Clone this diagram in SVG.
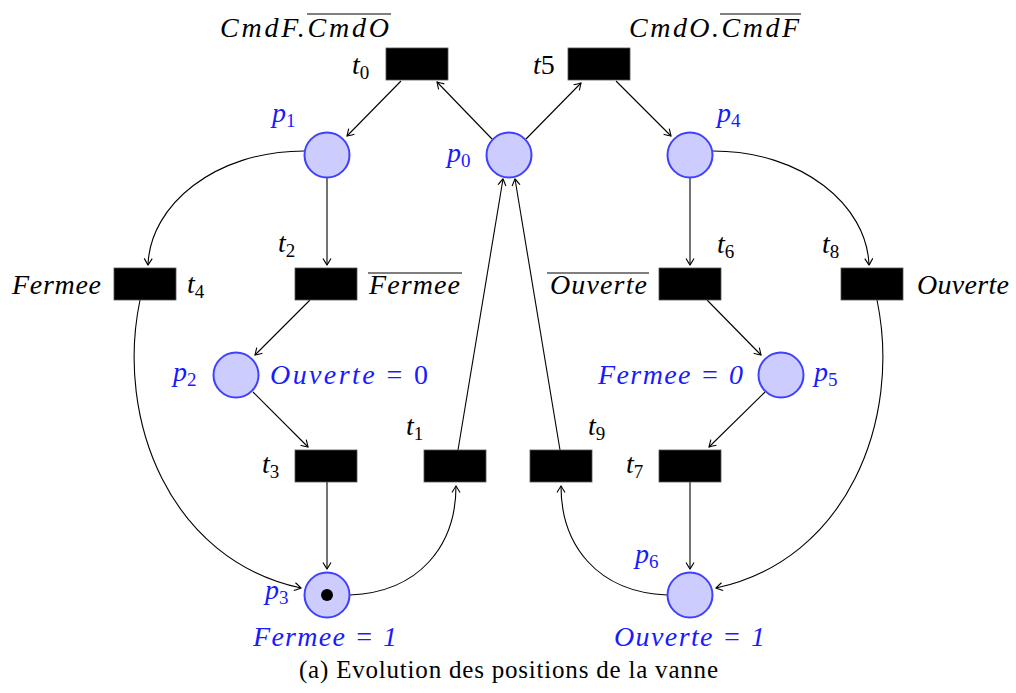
<svg xmlns="http://www.w3.org/2000/svg" width="1016" height="693" viewBox="0 0 1016 693">
<defs>
<marker id="arr" viewBox="-8 -5 10 10" markerWidth="10" markerHeight="10" refX="0" refY="0" orient="auto" markerUnits="userSpaceOnUse">
<path d="M-6.5,-4 Q-1.5,-1 0,0 Q-1.5,1 -6.5,4" fill="none" stroke="#000" stroke-width="1.1"/>
</marker>
</defs>
<style>
.pl{fill:#ccccff;stroke:#4040ff;stroke-width:2}
.tr{fill:#000;stroke:#555;stroke-width:0.8}
.c{fill:none;stroke:#000;stroke-width:1.1;marker-end:url(#arr)}
.m{font-family:"Liberation Serif",serif;font-style:italic;font-size:28px;fill:#000}
.b{fill:#1a1aff}
.s{font-style:normal;font-size:19px}
.ov{stroke:#000;stroke-width:1.1}
.cap{font-family:"Liberation Serif",serif;font-size:25px;fill:#000}
</style>
<rect width="1016" height="693" fill="#fff"/>
<g id="connectors">
<path class="c" d="M492,139 L437,82"/>
<path class="c" d="M401,81 L347,136"/>
<path class="c" d="M526,139 L581,83"/>
<path class="c" d="M616,81 L671,136"/>
<path class="c" d="M304,151 C215,151 150,205 148,265"/>
<path class="c" d="M327,178 L327,265"/>
<path class="c" d="M310,300 L255,355"/>
<path class="c" d="M253,392 L308,447"/>
<path class="c" d="M327,482 L327,569"/>
<path class="c" d="M140,300 C115,420 170,560 301,588"/>
<path class="c" d="M350,595 C420,592 456,545 456,486"/>
<path class="c" d="M458,450 L503,179"/>
<path class="c" d="M560,450 L515,179"/>
<path class="c" d="M667,595 C597,592 561,545 561,486"/>
<path class="c" d="M690,482 L690,569"/>
<path class="c" d="M765,392 L709,447"/>
<path class="c" d="M707,300 L761,355"/>
<path class="c" d="M690,178 L690,265"/>
<path class="c" d="M713,151 C802,151 867,205 869,265"/>
<path class="c" d="M877,300 C902,420 847,560 716,588"/>
</g>
<g id="p0"><circle class="pl" cx="509" cy="155" r="22.5"/><text class="m b" x="447" y="162">p<tspan class="s" dy="5">0</tspan></text></g>
<g id="p1"><circle class="pl" cx="327" cy="155" r="22.5"/><text class="m b" x="272" y="122">p<tspan class="s" dy="5">1</tspan></text></g>
<g id="p4"><circle class="pl" cx="690" cy="155" r="22.5"/><text class="m b" x="717" y="122">p<tspan class="s" dy="5">4</tspan></text></g>
<g id="p2"><circle class="pl" cx="236" cy="375" r="22.5"/><text class="m b" x="173" y="381">p<tspan class="s" dy="5">2</tspan></text><text class="m b" x="270" y="384" textLength="158">Ouverte<tspan font-style="normal"> = 0</tspan></text></g>
<g id="p5"><circle class="pl" cx="781" cy="375" r="22.5"/><text class="m b" x="598" y="384" textLength="145">Fermee = 0</text><text class="m b" x="814" y="381">p<tspan class="s" dy="5">5</tspan></text></g>
<g id="p3"><circle class="pl" cx="327" cy="595" r="22.5"/><circle cx="327" cy="595" r="6" fill="#000"/><text class="m b" x="265" y="599">p<tspan class="s" dy="5">3</tspan></text><text class="m b" x="253" y="646" textLength="144">Fermee = 1</text></g>
<g id="p6"><circle class="pl" cx="690" cy="595" r="22.5"/><text class="m b" x="635" y="563">p<tspan class="s" dy="5">6</tspan></text><text class="m b" x="614" y="646" textLength="151">Ouverte = 1</text></g>
<g id="t0"><rect class="tr" x="386" y="48" width="62" height="32"/><text class="m" x="220" y="37" textLength="169">CmdF.CmdO</text><line class="ov" x1="307" y1="14" x2="391" y2="14"/><text class="m" x="352" y="74">t<tspan class="s" dy="5">0</tspan></text></g>
<g id="t5"><rect class="tr" x="568" y="48" width="62" height="32"/><text class="m" x="629" y="37" textLength="170">CmdO.CmdF</text><line class="ov" x1="720" y1="14" x2="801" y2="14"/><text class="m" x="533" y="74">t<tspan font-style="normal">5</tspan></text></g>
<g id="t4"><rect class="tr" x="114" y="268" width="62" height="32"/><text class="m" x="12" y="294" textLength="89">Fermee</text><text class="m" x="187" y="293">t<tspan class="s" dy="5">4</tspan></text></g>
<g id="t2"><rect class="tr" x="295" y="268" width="62" height="32"/><text class="m" x="278" y="252">t<tspan class="s" dy="5">2</tspan></text><text class="m" x="369" y="294" textLength="91">Fermee</text><line class="ov" x1="368" y1="273" x2="462" y2="273"/></g>
<g id="t6"><rect class="tr" x="659" y="268" width="62" height="32"/><text class="m" x="550" y="294" textLength="97">Ouverte</text><line class="ov" x1="547" y1="273" x2="649" y2="273"/><text class="m" x="717" y="253">t<tspan class="s" dy="5">6</tspan></text></g>
<g id="t8"><rect class="tr" x="841" y="268" width="62" height="32"/><text class="m" x="822" y="253">t<tspan class="s" dy="5">8</tspan></text><text class="m" x="917" y="294" textLength="92">Ouverte</text></g>
<g id="t3"><rect class="tr" x="295" y="450" width="62" height="32"/><text class="m" x="262" y="473">t<tspan class="s" dy="5">3</tspan></text></g>
<g id="t1"><rect class="tr" x="424" y="450" width="62" height="32"/><text class="m" x="406" y="435">t<tspan class="s" dy="5">1</tspan></text></g>
<g id="t9"><rect class="tr" x="530" y="450" width="62" height="32"/><text class="m" x="588" y="435">t<tspan class="s" dy="5">9</tspan></text></g>
<g id="t7"><rect class="tr" x="659" y="450" width="62" height="32"/><text class="m" x="626" y="473">t<tspan class="s" dy="5">7</tspan></text></g>
<text class="cap" x="299" y="678" textLength="419">(a) Evolution des positions de la vanne</text>
</svg>
